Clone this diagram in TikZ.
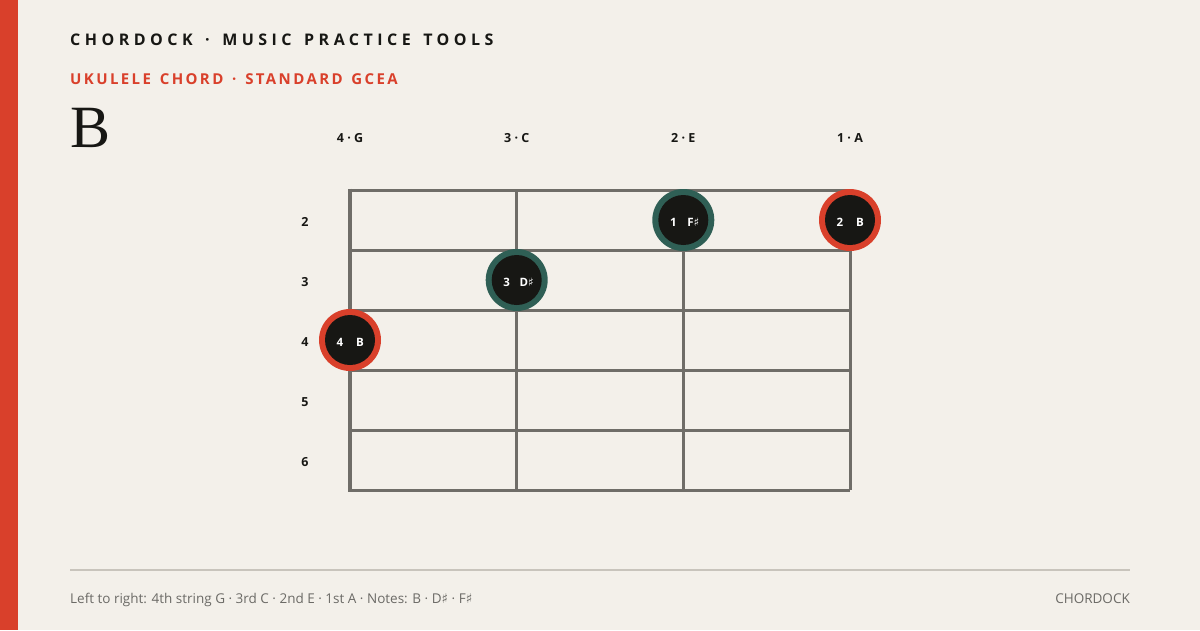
\documentclass[tikz,border=0pt]{standalone}
\usepackage{fontspec}
\setmainfont{Open Sans}
\newfontfamily\headfont[LetterSpace=28,WordSpace=1.45]{Open Sans}
\newfontfamily\subfont[LetterSpace=16,WordSpace=1.4]{Open Sans}
\newfontfamily\chordfont{Liberation Serif}
\newfontfamily\symfont{DejaVu Sans}
\newcommand{\shp}{{\symfont\char"266F}}
\definecolor{bg}{HTML}{F3F0EA}
\definecolor{accent}{HTML}{D9402B}
\definecolor{teal}{HTML}{2F5F55}
\definecolor{ink}{HTML}{171714}
\definecolor{gridc}{HTML}{6F6D68}
\definecolor{rule}{HTML}{C8C4BC}
\definecolor{foot}{HTML}{6B6A66}
\tikzset{
  gridline/.style={draw=gridc, line width=3pt},
  strlabel/.style={font=\bfseries\fontsize{12.5}{14}\selectfont, text=ink, inner sep=0pt, anchor=base},
  fretlabel/.style={font=\bfseries\fontsize{12.5}{14}\selectfont, text=ink, inner sep=0pt, anchor=base},
  dotlabel/.style={font=\bfseries\fontsize{11.5}{13}\selectfont, text=white, inner sep=0pt, anchor=base},
}
\newcommand{\fingerdot}[4]{%
  \fill[#2] (#1) circle (31);
  \fill[ink] (#1) circle (25);
  \node[dotlabel] at ($(#1)+(-10,6)$) {#3};
  \node[dotlabel] at ($(#1)+(10,6)$) {#4};
}
\usetikzlibrary{calc}
\begin{document}
\begin{tikzpicture}[x=1pt,y=-1pt]
\fill[bg] (0,0) rectangle (1200,630);
\useasboundingbox (0,0) rectangle (1200,630);
\fill[accent] (0,0) rectangle (18,630);
% header
\node[anchor=base west, inner sep=0pt, text=ink, font=\headfont\bfseries\fontsize{16}{18}\selectfont] (title) at (70,45) {CHORDOCK · MUSIC PRACTICE TOOLS};
\node[anchor=base west, inner sep=0pt, text=accent, font=\subfont\bfseries\fontsize{15}{17}\selectfont] (sub) at (70,84) {UKULELE CHORD · STANDARD GCEA};
\node[anchor=base west, inner sep=0pt, text=ink, font=\chordfont\fontsize{60}{62}\selectfont] (chord) at (70,147) {B};
% string labels
\node[strlabel] (s4) at (350,142) {4 · G};
\node[strlabel] (s3) at (516.7,142) {3 · C};
\node[strlabel] (s2) at (683.3,142) {2 · E};
\node[strlabel] (s1) at (850,142) {1 · A};
% fret labels
\foreach \f [count=\i from 0] in {2,3,4,5,6} {
  \node[fretlabel] (fl\f) at (305,{226+60*\i}) {\f};
}
% grid
\foreach \y in {190,250,310,370,430,490} {
  \draw[gridline] (350,\y) -- (850,\y);
}
\foreach \x in {516.7,683.3,850} {
  \draw[gridline] (\x,190) -- (\x,490);
}
\draw[draw=gridc, line width=3.5pt] (350,188.5) -- (350,491.5);
% dots
\coordinate (d1) at (683.3,220);
\coordinate (d2) at (850,220);
\coordinate (d3) at (516.7,280);
\coordinate (d4) at (350,340);
\fingerdot{d1}{teal}{1}{F\shp}
\fingerdot{d2}{accent}{2}{B}
\fingerdot{d3}{teal}{3}{D\shp}
\fingerdot{d4}{accent}{4}{B}
% footer
\draw[draw=rule, line width=2pt] (70,570) -- (1130,570);
\node[anchor=base west, inner sep=0pt, text=foot, font=\fontsize{13.5}{16}\selectfont] (ft) at (70,603) {Left to right: 4th string G · 3rd C · 2nd E · 1st A · Notes: B · D\shp\ · F\shp};
\node[anchor=base east, inner sep=0pt, text=foot, font=\fontsize{13.5}{16}\selectfont] (brand) at (1130,603) {CHORDOCK};
\end{tikzpicture}
\end{document}
